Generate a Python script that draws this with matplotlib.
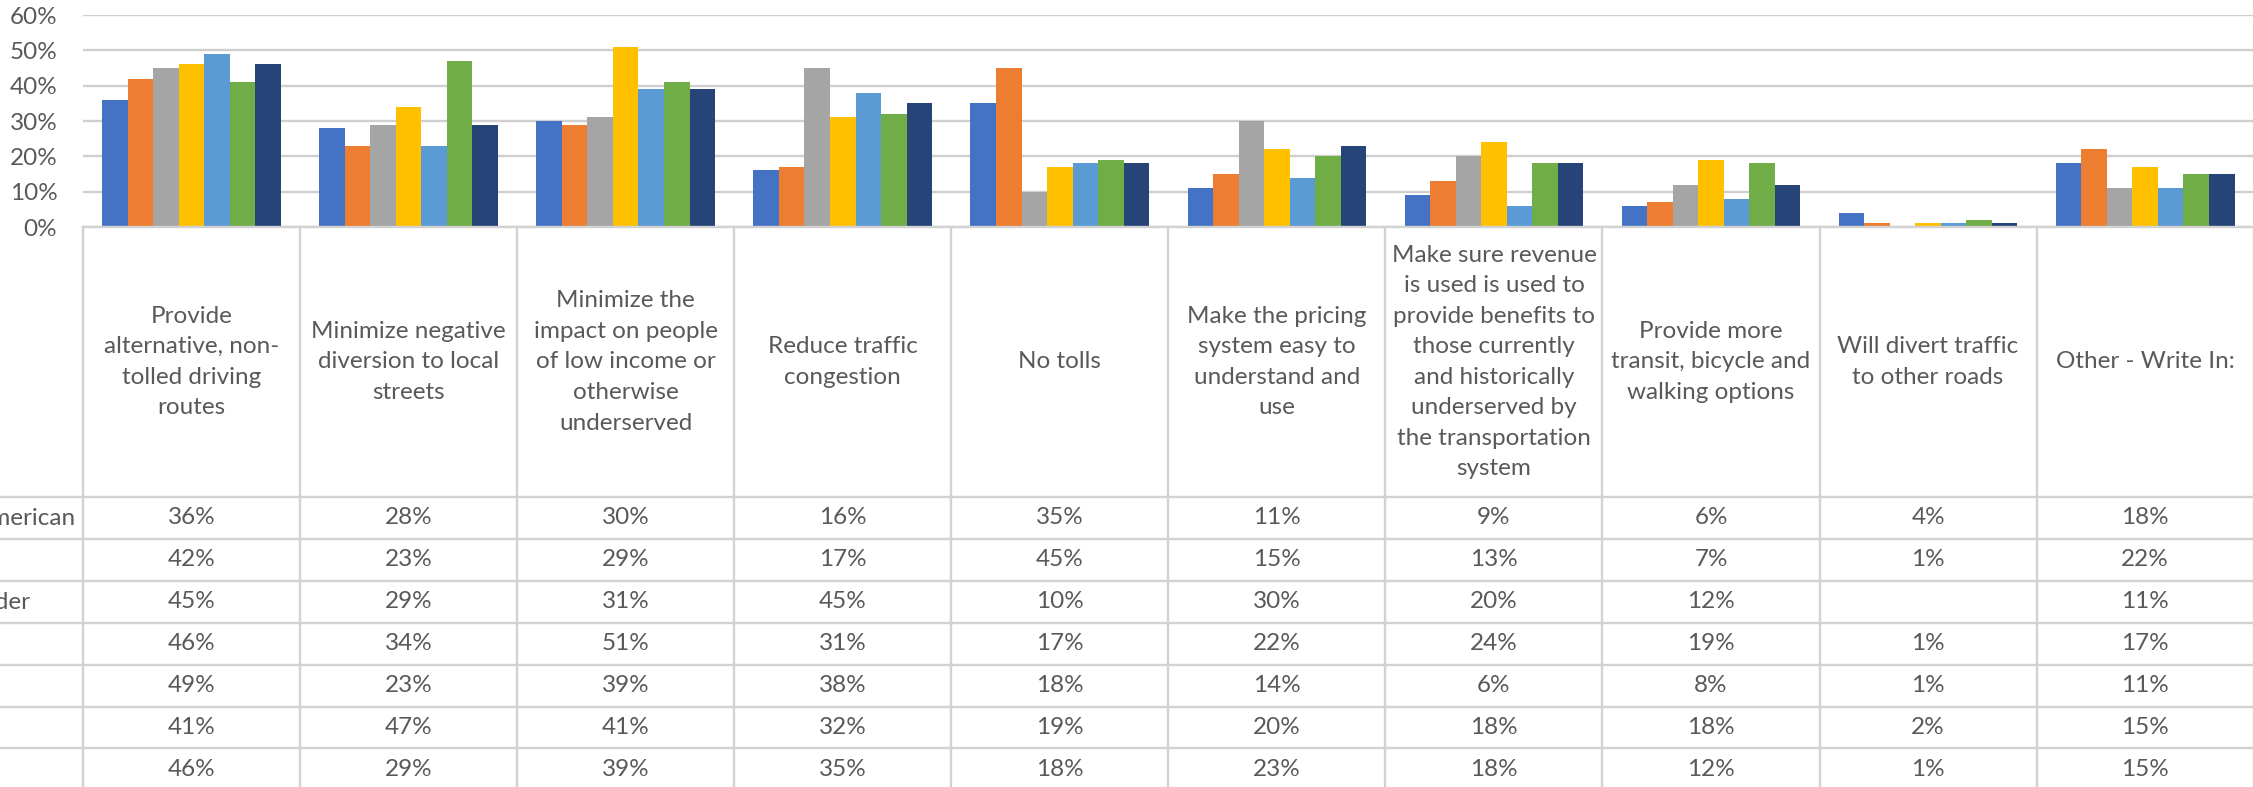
import matplotlib
matplotlib.use('Agg')
import matplotlib.pyplot as plt
import matplotlib.transforms as mtransforms
from matplotlib.lines import Line2D
from matplotlib.ticker import PercentFormatter
import numpy as np

# ---------------- data ----------------
categories = [
    "Provide\nalternative, non-\ntolled driving\nroutes",
    "Minimize negative\ndiversion to local\nstreets",
    "Minimize the\nimpact on people\nof low income or\notherwise\nunderserved",
    "Reduce traffic\ncongestion",
    "No tolls",
    "Make the pricing\nsystem easy to\nunderstand and\nuse",
    "Make sure revenue\nis used is used to\nprovide benefits to\nthose currently\nand historically\nunderserved by\nthe transportation\nsystem",
    "Provide more\ntransit, bicycle and\nwalking options",
    "Will divert traffic\nto other roads",
    "Other - Write In:",
]
series_names = [
    "Black/African American",
    "Hispanic/Latino",
    "Asian/Pacific Islander",
    "Other",
    "White",
    "Multiracial",
    "Total",
]
s1 = [36, 28, 30, 16, 35, 11, 9, 6, 4, 18]
s2 = [42, 23, 29, 17, 45, 15, 13, 7, 1, 22]
s3 = [45, 29, 31, 45, 10, 30, 20, 12, np.nan, 11]
s4 = [46, 34, 51, 31, 17, 22, 24, 19, 1, 17]
s5 = [49, 23, 39, 38, 18, 14, 6, 8, 1, 11]
s6 = [41, 47, 41, 32, 19, 20, 18, 18, 2, 15]
s7 = [46, 29, 39, 35, 18, 23, 18, 12, 1, 15]
series = [s1, s2, s3, s4, s5, s6, s7]
colors = ["#4472C4", "#ED7D31", "#A5A5A5", "#FFC000", "#5B9BD5", "#70AD47", "#264478"]

# ---------------- layout ----------------
W, H = 2253, 787
fig = plt.figure(figsize=(W / 100, H / 100), dpi=100)
plt.rcParams['font.family'] = ['Lato', 'DejaVu Sans']
TXT = '#595959'
LINE = '#D2D2D2'
FS = 17.5


def fy(px):
    return 1 - px / H


ax = fig.add_axes([83 / W, fy(227), 2170.7 / W, (227 - 15) / H])
x = np.arange(len(categories))
bw = 1 / 8.5
for j, vals in enumerate(series):
    v = np.array(vals, dtype=float) / 100
    ax.bar(x + (j - 3) * bw, v, width=bw, color=colors[j], zorder=3, linewidth=0)

ax.set_xlim(-0.5, 9.5)
ax.set_ylim(0, 0.6)
ax.set_yticks(np.arange(0, 0.61, 0.1))
ax.yaxis.set_major_formatter(PercentFormatter(1.0, decimals=0))
ax.set_xticks([])
ax.tick_params(axis='y', length=0, pad=18.5, labelsize=FS, labelcolor=TXT)
for sp in ax.spines.values():
    sp.set_visible(False)
ax.set_axisbelow(True)
ax.yaxis.grid(True, color='#CFCFCF', lw=1.7, zorder=0)

# ---------------- data table ----------------
trans = mtransforms.blended_transform_factory(ax.transData, fig.transFigure)
row_bounds = [497, 539, 581, 623, 665, 707, 748, 790]
header_top = 227

# vertical lines
for k in range(len(categories) + 1):
    fig.add_artist(Line2D([k - 0.5, k - 0.5], [fy(header_top), fy(800)],
                          transform=trans, color=LINE, lw=1.7, zorder=1))
# horizontal lines
fig.add_artist(Line2D([-0.5, 9.5], [fy(header_top)] * 2, transform=trans,
                      color=LINE, lw=1.7))
for yb in row_bounds:
    fig.add_artist(Line2D([0, 1], [fy(yb)] * 2, transform=fig.transFigure,
                          color=LINE, lw=1.7))

# header labels
for i, c in enumerate(categories):
    fig.text(i, fy((header_top + row_bounds[0]) / 2), c, transform=trans,
             ha='center', va='center', multialignment='center',
             fontsize=FS, color=TXT, linespacing=1.56)

# cell values
for r, vals in enumerate(series):
    yc = fy((row_bounds[r] + row_bounds[r + 1]) / 2)
    for i, v in enumerate(vals):
        if np.isnan(v):
            continue
        fig.text(i, yc, f"{int(v)}%", transform=trans, ha='center', va='center',
                 fontsize=FS, color=TXT)

# row labels (left column, mostly outside the visible area)
renderer = fig.canvas.get_renderer()
lbls = []
for r, name in enumerate(series_names):
    yc = fy((row_bounds[r] + row_bounds[r + 1]) / 2)
    lbls.append(fig.text(0, yc, name, ha='left', va='center', fontsize=FS, color=TXT))
w0 = lbls[0].get_window_extent(renderer).width
x0 = (75 - w0) / W
for t in lbls:
    t.set_x(x0)
# third label ends a little further left in the cropped view
w2 = lbls[2].get_window_extent(renderer).width
lbls[2].set_x((30 - w2) / W)

fig.savefig('out.png', dpi=100, facecolor='white')
